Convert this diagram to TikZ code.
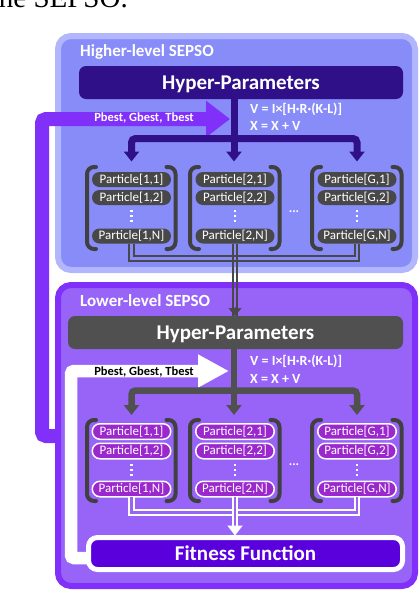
\documentclass[tikz,border=0pt]{standalone}
\usepackage{fontspec}
\newfontfamily\calfont{Carlito}
\newfontfamily\capfont{Liberation Serif}
\usetikzlibrary{arrows.meta}
\definecolor{hiBorder}{HTML}{B2B6FC}
\definecolor{hiFill}{HTML}{888CF8}
\definecolor{hiDark}{HTML}{301088}
\definecolor{purArrow}{HTML}{8030F8}
\definecolor{loFill}{HTML}{9864F8}
\definecolor{loDark}{HTML}{505050}
\definecolor{pillHi}{HTML}{484848}
\definecolor{pillLo}{HTML}{9B28CD}
\definecolor{fitFill}{HTML}{5A00DC}
\definecolor{brk}{HTML}{404040}
\newcommand\myfs[1]{\fontsize{#1}{#1}\selectfont}
\newcommand\brpair[4]{%
  \draw[brkst] (#1+9,#3) -- (#1,#3) -- (#1,#4) -- (#1+9,#4);
  \draw[brkst] (#2-9,#3) -- (#2,#3) -- (#2,#4) -- (#2-9,#4);}
\begin{document}
\begin{tikzpicture}[x=1pt,y=-1pt,
  bigbox/.style={rounded corners=13pt, line width=6pt, inner sep=0pt, outer sep=0pt},
  hyper/.style={rounded corners=7pt, inner sep=0pt, outer sep=0pt, minimum height=33pt, text=white, text depth=0pt, font=\calfont\bfseries\myfs{21}},
  title/.style={anchor=base west, inner sep=0pt, text=white, font=\calfont\bfseries\myfs{17}},
  pb/.style={anchor=base, inner sep=0pt, font=\calfont\bfseries\myfs{12.5}},
  formula/.style={anchor=base west, inner sep=0pt, text=white, font=\calfont\bfseries\myfs{14}},
  pillH/.style={rounded corners=7.5pt, fill=pillHi, text=white, minimum width=79pt, minimum height=15pt, inner sep=0pt, outer sep=0pt, font=\calfont\myfs{13}},
  pillL/.style={rounded corners=7.7pt, fill=pillLo, draw=white, line width=1.5pt, text=white, minimum width=78.5pt, minimum height=15.5pt, inner sep=0pt, outer sep=0pt, font=\calfont\myfs{13}},
  brkst/.style={draw=brk, line width=4pt, line cap=round, rounded corners=7pt},
  hiConn/.style={draw=hiDark, line width=7pt},
  loConn/.style={draw=loDark, line width=6.5pt},
  tipA/.style={-{Triangle[width=15pt,length=10pt]}},
  tipB/.style={{Triangle[width=15pt,length=10pt]}-{Triangle[width=15pt,length=10pt]}},
  dblH/.style={draw=pillHi, double=hiFill, line width=2.2pt, double distance=2.4pt},
  dblL/.style={draw=white, double=loFill, line width=2pt, double distance=2.4pt},
  sline/.style={draw=pillHi, line width=2.2pt},
  dots/.style={anchor=base, inner sep=0pt, text=white, font=\calfont\bfseries\myfs{13}},
]
\useasboundingbox (0,0) rectangle (420,592);
\clip (0,0) rectangle (420,592);

% caption fragment
\node[anchor=base east, inner sep=0pt, font=\capfont\myfs{29}] (cap) at (128,7) {the SEPSO.};

% big boxes
\node[bigbox, fill=hiFill, draw=hiBorder, minimum width=357pt, minimum height=234pt] (hiBox) at (236.5,153) {};
\node[bigbox, fill=loFill, draw=purArrow, minimum width=357pt, minimum height=301pt] (loBox) at (236.5,435.5) {};

% purple feedback
\coordinate (pJ1) at (42,436);
\coordinate (pJ2) at (42,119);
\coordinate (pTip) at (230,119);
\draw[purArrow, line width=14pt, rounded corners=4pt, -{Triangle[width=35pt,length=24pt]}]
  (loBox.west |- pJ1) -- (pJ1) -- (pJ2) -- (pTip);

% hyper-parameter boxes
\node[hyper, fill=hiDark, minimum width=324pt] (hpHi) at (241,82.5) {Hyper-Parameters};
\node[hyper, fill=loDark, minimum width=335pt] (hpLo) at (235.5,332.5) {Hyper-Parameters};

% white feedback
\coordinate (wJ1) at (71,558);
\coordinate (wJ2) at (71,371);
\coordinate (wTip) at (229,371);
\node[inner sep=0pt, outer sep=0pt, minimum width=314pt, minimum height=32pt] (fitpos) at (245.5,553.5) {};
\draw[white, line width=12.5pt, rounded corners=3pt, -{Triangle[width=31pt,length=31pt]}]
  (fitpos.west |- wJ1) -- (wJ1) -- (wJ2) -- (wTip);
\node[fill=fitFill, draw=white, line width=5pt, rounded corners=9pt, inner sep=0pt, outer sep=0pt,
  minimum width=314pt, minimum height=32pt, text=white, text depth=0pt, font=\calfont\bfseries\myfs{21}]
  (fit) at (245.5,553.5) {Fitness Function};

% titles and texts
\node[title] (hiTitle) at (80,56) {Higher-level SEPSO};
\node[title] (loTitle) at (80,306) {Lower-level SEPSO};
\node[pb, text=white] (pbHi) at (144,121.7) {Pbest, Gbest, Tbest};
\node[pb, text=black] (pbLo) at (144,375.7) {Pbest, Gbest, Tbest};
\node[formula] (fV1) at (250,113.3) {V = I×[H·R·(K-L)]};
\node[formula] (fX1) at (250,130) {X = X + V};
\node[formula] (fV2) at (250,365.7) {V = I×[H·R·(K-L)]};
\node[formula] (fX2) at (250,383) {X = X + V};

% dark distribution connectors (upper)
\coordinate (hT1) at (131.5,161.5);
\coordinate (hT2) at (234,161.5);
\coordinate (hTG) at (357,161.5);
\coordinate (hB1) at (131.5,138.5);
\coordinate (hBG) at (357,138.5);
\draw[hiConn, tipA] (hpHi.south -| hT2) -- (hT2);
\draw[hiConn, tipB, rounded corners=4pt] (hT1) -- (hB1) -- (hBG) -- (hTG);

% dark distribution connectors (lower)
\coordinate (lT1) at (131.5,415);
\coordinate (lT2) at (234,415);
\coordinate (lTG) at (357,415);
\coordinate (lB1) at (131.5,390.5);
\coordinate (lBG) at (357,390.5);
\draw[loConn, tipA] (hpLo.south -| lT2) -- (lT2);
\draw[loConn, tipB, rounded corners=4pt] (lT1) -- (lB1) -- (lBG) -- (lTG);

% brackets
\brpair{87}{175.5}{167}{249}
\brpair{190}{279.5}{167}{249}
\brpair{312}{401.5}{167}{249}
\brpair{87}{175.5}{420}{501}
\brpair{190}{279.5}{420}{501}
\brpair{312}{401.5}{420}{501}

% upper particles
\node[pillH] (h11) at (131.5,179.5) {Particle[1,1]};
\node[pillH] (h12) at (131.5,197.5) {Particle[1,2]};
\node[pillH] (h1N) at (131.5,236) {Particle[1,N]};
\node[pillH] (h21) at (235,179.5) {Particle[2,1]};
\node[pillH] (h22) at (235,197.5) {Particle[2,2]};
\node[pillH] (h2N) at (235,236) {Particle[2,N]};
\node[pillH] (hG1) at (357,179.5) {Particle[G,1]};
\node[pillH] (hG2) at (357,197.5) {Particle[G,2]};
\node[pillH] (hGN) at (357,236) {Particle[G,N]};

% lower particles
\node[pillL] (l11) at (131.5,431.5) {Particle[1,1]};
\node[pillL] (l12) at (131.5,451) {Particle[1,2]};
\node[pillL] (l1N) at (131.5,489) {Particle[1,N]};
\node[pillL] (l21) at (235,431.5) {Particle[2,1]};
\node[pillL] (l22) at (235,451) {Particle[2,2]};
\node[pillL] (l2N) at (235,489) {Particle[2,N]};
\node[pillL] (lG1) at (357,431.5) {Particle[G,1]};
\node[pillL] (lG2) at (357,451) {Particle[G,2]};
\node[pillL] (lGN) at (357,489) {Particle[G,N]};

% vertical dots
\foreach \x in {131.5,235,357}{
  \foreach \y in {211,216,221,465,470,475}{
    \fill[white] (\x-1.1,\y-1.1) rectangle (\x+1.1,\y+1.1);
  }
}
\node[dots] (dH) at (294,212) {...};
\node[dots] (dL) at (294,465) {...};

% upper particle connectors
\coordinate (hM) at (235,258.5);
\draw[dblH] (h1N.south) -- (h1N.south |- hM) -- (hM);
\draw[dblH] (hGN.south) -- (hGN.south |- hM) -- (hM);
\draw[sline] ([xshift=-2.3pt]h2N.south) -- ([xshift=-2.3pt]h2N.south |- hpLo.north);
\draw[sline] ([xshift=2.3pt]h2N.south) -- ([xshift=2.3pt]h2N.south |- hpLo.north);
\draw[draw=pillHi, line width=0.5pt, -{Triangle[width=13pt,length=8pt]}]
  (h2N.south |- hpLo.north) ++(0,-9) -- (h2N.south |- hpLo.north);

% lower particle connectors
\coordinate (lM) at (235,512.5);
\draw[dblL] (l1N.south) -- (l1N.south |- lM) -- (lM);
\draw[dblL] (lGN.south) -- (lGN.south |- lM) -- (lM);
\draw[dblL, -{Triangle[width=15pt,length=10pt]}] (l2N.south) -- ([yshift=2pt]fit.north -| l2N.south);
\end{tikzpicture}
\end{document}
